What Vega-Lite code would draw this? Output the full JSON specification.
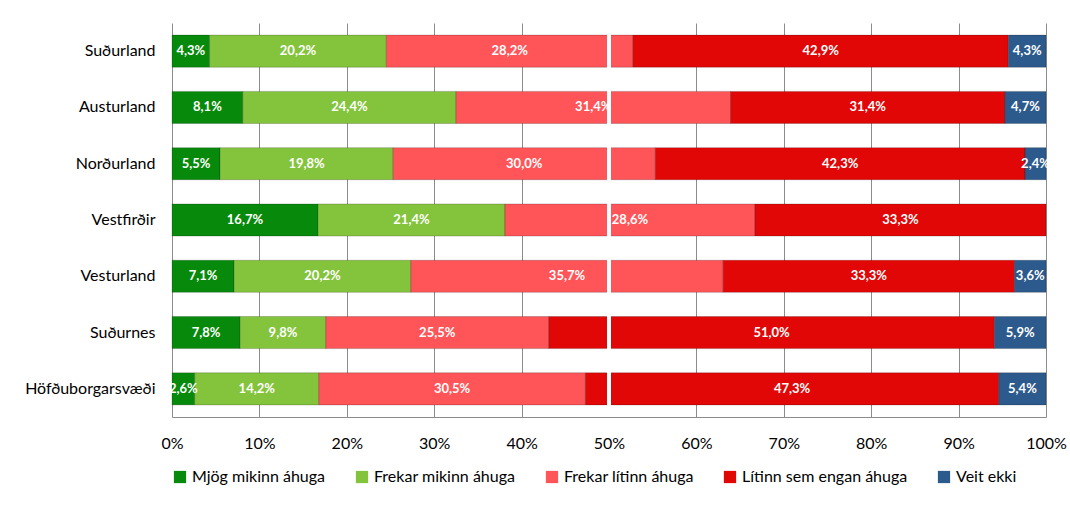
{
  "$schema": "https://vega.github.io/schema/vega-lite/v6.json",
  "width": 874,
  "height": 394,
  "autosize": {"type": "none"},
  "padding": {"left": 172, "top": 23, "right": 24, "bottom": 90},
  "background": "white",
  "config": {
    "locale": {"number": {"decimal": ",", "thousands": ".", "grouping": [3], "currency": ["", " kr."]}},
    "font": "Lato",
    "view": {"stroke": null},
    "axisX": {"grid": true, "gridColor": "#8c8c8c", "gridWidth": 1, "ticks": false, "domainColor": "#8c8c8c",
      "labelFontSize": 16, "labelColor": "#000000", "labelPadding": 18, "labelFont": "Lato", "labelOverlap": false, "labelFlush": false}
  },
  "data": {
    "values": [
      {"svaedi": "Suðurland", "flokkur": "Mjög mikinn áhuga", "k": 1, "hlutfall": 0.043},
      {"svaedi": "Suðurland", "flokkur": "Frekar mikinn áhuga", "k": 2, "hlutfall": 0.202},
      {"svaedi": "Suðurland", "flokkur": "Frekar lítinn áhuga", "k": 3, "hlutfall": 0.282},
      {"svaedi": "Suðurland", "flokkur": "Lítinn sem engan áhuga", "k": 4, "hlutfall": 0.429},
      {"svaedi": "Suðurland", "flokkur": "Veit ekki", "k": 5, "hlutfall": 0.043},
      {"svaedi": "Austurland", "flokkur": "Mjög mikinn áhuga", "k": 1, "hlutfall": 0.081},
      {"svaedi": "Austurland", "flokkur": "Frekar mikinn áhuga", "k": 2, "hlutfall": 0.244},
      {"svaedi": "Austurland", "flokkur": "Frekar lítinn áhuga", "k": 3, "hlutfall": 0.314},
      {"svaedi": "Austurland", "flokkur": "Lítinn sem engan áhuga", "k": 4, "hlutfall": 0.314},
      {"svaedi": "Austurland", "flokkur": "Veit ekki", "k": 5, "hlutfall": 0.047},
      {"svaedi": "Norðurland", "flokkur": "Mjög mikinn áhuga", "k": 1, "hlutfall": 0.055},
      {"svaedi": "Norðurland", "flokkur": "Frekar mikinn áhuga", "k": 2, "hlutfall": 0.198},
      {"svaedi": "Norðurland", "flokkur": "Frekar lítinn áhuga", "k": 3, "hlutfall": 0.300},
      {"svaedi": "Norðurland", "flokkur": "Lítinn sem engan áhuga", "k": 4, "hlutfall": 0.423},
      {"svaedi": "Norðurland", "flokkur": "Veit ekki", "k": 5, "hlutfall": 0.024},
      {"svaedi": "Vestfirðir", "flokkur": "Mjög mikinn áhuga", "k": 1, "hlutfall": 0.167},
      {"svaedi": "Vestfirðir", "flokkur": "Frekar mikinn áhuga", "k": 2, "hlutfall": 0.214},
      {"svaedi": "Vestfirðir", "flokkur": "Frekar lítinn áhuga", "k": 3, "hlutfall": 0.286},
      {"svaedi": "Vestfirðir", "flokkur": "Lítinn sem engan áhuga", "k": 4, "hlutfall": 0.333},
      {"svaedi": "Vesturland", "flokkur": "Mjög mikinn áhuga", "k": 1, "hlutfall": 0.071},
      {"svaedi": "Vesturland", "flokkur": "Frekar mikinn áhuga", "k": 2, "hlutfall": 0.202},
      {"svaedi": "Vesturland", "flokkur": "Frekar lítinn áhuga", "k": 3, "hlutfall": 0.357},
      {"svaedi": "Vesturland", "flokkur": "Lítinn sem engan áhuga", "k": 4, "hlutfall": 0.333},
      {"svaedi": "Vesturland", "flokkur": "Veit ekki", "k": 5, "hlutfall": 0.036},
      {"svaedi": "Suðurnes", "flokkur": "Mjög mikinn áhuga", "k": 1, "hlutfall": 0.078},
      {"svaedi": "Suðurnes", "flokkur": "Frekar mikinn áhuga", "k": 2, "hlutfall": 0.098},
      {"svaedi": "Suðurnes", "flokkur": "Frekar lítinn áhuga", "k": 3, "hlutfall": 0.255},
      {"svaedi": "Suðurnes", "flokkur": "Lítinn sem engan áhuga", "k": 4, "hlutfall": 0.510},
      {"svaedi": "Suðurnes", "flokkur": "Veit ekki", "k": 5, "hlutfall": 0.059},
      {"svaedi": "Höfðuborgarsvæði", "flokkur": "Mjög mikinn áhuga", "k": 1, "hlutfall": 0.026},
      {"svaedi": "Höfðuborgarsvæði", "flokkur": "Frekar mikinn áhuga", "k": 2, "hlutfall": 0.142},
      {"svaedi": "Höfðuborgarsvæði", "flokkur": "Frekar lítinn áhuga", "k": 3, "hlutfall": 0.305},
      {"svaedi": "Höfðuborgarsvæði", "flokkur": "Lítinn sem engan áhuga", "k": 4, "hlutfall": 0.473},
      {"svaedi": "Höfðuborgarsvæði", "flokkur": "Veit ekki", "k": 5, "hlutfall": 0.054}
    ]
  },
  "transform": [
    {"stack": "hlutfall", "groupby": ["svaedi"], "sort": [{"field": "k", "order": "ascending"}], "offset": "normalize", "as": ["x0", "x1"]},
    {"calculate": "(datum.x0 + datum.x1) / 2", "as": "midja"}
  ],
  "encoding": {
    "y": {
      "field": "svaedi", "type": "nominal", "title": null,
      "sort": ["Suðurland", "Austurland", "Norðurland", "Vestfirðir", "Vesturland", "Suðurnes", "Höfðuborgarsvæði"],
      "scale": {"paddingInner": 0.43, "paddingOuter": 0.215},
      "axis": {"domain": false, "ticks": false, "labelFontSize": 16, "labelColor": "#000000", "labelPadding": 17, "labelFont": "Lato"}
    }
  },
  "layer": [
    {
      "mark": {"type": "bar", "strokeWidth": 1, "stroke": "#00000033"},
      "encoding": {
        "x": {"field": "x0", "type": "quantitative", "title": null,
          "scale": {"domain": [0, 1], "nice": false},
          "axis": {"format": ".0%", "values": [0, 0.1, 0.2, 0.3, 0.4, 0.5, 0.6, 0.7, 0.8, 0.9, 1]}},
        "x2": {"field": "x1"},
        "color": {
          "field": "flokkur", "type": "nominal", "title": null,
          "sort": ["Mjög mikinn áhuga", "Frekar mikinn áhuga", "Frekar lítinn áhuga", "Lítinn sem engan áhuga", "Veit ekki"],
          "scale": {
            "domain": ["Mjög mikinn áhuga", "Frekar mikinn áhuga", "Frekar lítinn áhuga", "Lítinn sem engan áhuga", "Veit ekki"],
            "range": ["#07890b", "#84c43c", "#ff5458", "#e20707", "#2d5a8c"]
          },
          "legend": {
            "orient": "bottom", "direction": "horizontal", "symbolType": "square", "symbolSize": 150,
            "symbolStrokeWidth": 0, "labelFontSize": 16, "labelColor": "#000000", "labelFont": "Lato", "labelLimit": 400,
            "columnPadding": 28, "offset": 18, "symbolOffset": 0, "labelOffset": 4
          }
        }
      }
    },
    {
      "mark": {"type": "rule", "color": "white", "strokeWidth": 4},
      "encoding": {"x": {"datum": 0.5, "type": "quantitative"}, "y": null}
    },
    {
      "mark": {"type": "text", "color": "white", "fontWeight": "bold", "fontSize": 13, "font": "Lato"},
      "encoding": {
        "x": {"field": "midja", "type": "quantitative"},
        "text": {"field": "hlutfall", "type": "quantitative", "format": ".1%"}
      }
    }
  ]
}
